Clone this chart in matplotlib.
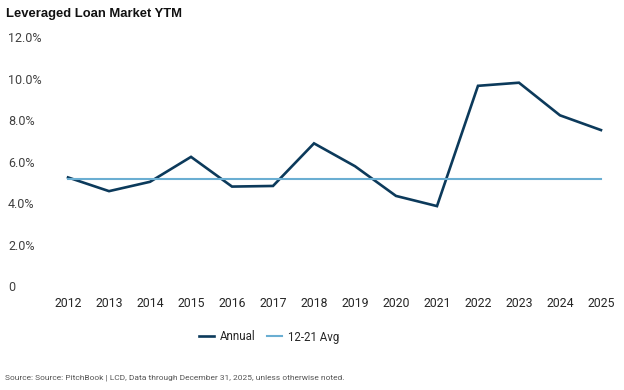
import matplotlib
matplotlib.use("Agg")
import matplotlib.pyplot as plt

years = [2012, 2013, 2014, 2015, 2016, 2017, 2018, 2019, 2020, 2021, 2022, 2023, 2024, 2025]
annual = [5.24, 4.58, 5.03, 6.23, 4.80, 4.83, 6.88, 5.78, 4.35, 3.86, 9.65, 9.80, 8.23, 7.52]
avg_12_21 = [5.16, 5.16, 5.16, 5.16, 5.16, 5.16, 5.16, 5.16, 5.16, 5.16, 5.16, 5.16, 5.16, 5.16]
y_ticks = [0, 2, 4, 6, 8, 10, 12]
y_tick_labels = ["0", "2.0%", "4.0%", "6.0%", "8.0%", "10.0%", "12.0%"]

font = ["Roboto", "DejaVu Sans"]

W, H = 624, 390
fig = plt.figure(figsize=(W / 100, H / 100), dpi=100)
fig.patch.set_facecolor("white")

left, right = 50, 619
top, bottom = 37, 286.3
ax = fig.add_axes([left / W, 1 - bottom / H, (right - left) / W, (bottom - top) / H])

ax.plot(years, annual, color="#0c3a5b", lw=1.9, label="Annual", solid_joinstyle="miter")
ax.plot(years, avg_12_21, color="#6aaed2", lw=1.5, label="12-21 Avg")

ax.set_xlim(2011.56, 2025.44)
ax.set_ylim(0, 12)
ax.set_xticks(years)
ax.set_xticklabels([str(y) for y in years], fontsize=8.8, family=font, color="#262626")
ax.set_yticks(y_ticks)
ax.set_yticklabels(y_tick_labels, fontsize=9.0, family=font, color="#404040")
for lab in ax.get_yticklabels():
    lab.set_horizontalalignment("left")
ax.tick_params(axis="y", length=0, pad=30.2)
ax.tick_params(axis="x", length=0, pad=8)
for s in ax.spines.values():
    s.set_visible(False)

leg = fig.legend(loc="center", bbox_to_anchor=(269 / W, 1 - 337 / H), ncol=2, frameon=False,
                 prop={"family": font, "size": 8.3},
                 handlelength=1.3, handletextpad=0.5, columnspacing=1.0)
for t in leg.get_texts():
    t.set_color("#262626")

fig.text(6 / W, 1 - 14 / H, "Leveraged Loan Market YTM", fontsize=9.4, fontweight="bold",
         family=["Liberation Sans", "DejaVu Sans"], color="#111111", va="center", ha="left")
fig.text(5 / W, 1 - 378 / H,
         "Source: Source: PitchBook | LCD, Data through December 31, 2025, unless otherwise noted.",
         fontsize=6.0, family=font, color="#555555", va="center", ha="left")

fig.savefig("out.png", dpi=100, facecolor="white")
